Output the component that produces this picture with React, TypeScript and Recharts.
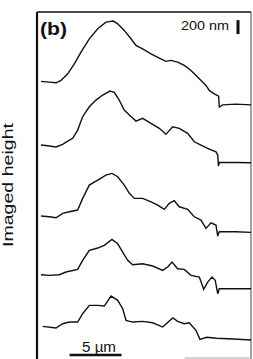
import React from "react";
import { LineChart, Line, XAxis, YAxis, ReferenceLine } from "recharts";

// Five stacked line-scan profiles (panel b). x in µm, heights in nm
// relative to each trace's own left baseline; offsets stack them.

const X_MAX = 20.58;
const Y_MAX = 4960;

const trace1X = [0.38, 1.18, 1.83, 2.31, 2.95, 3.59, 4.23, 5.03, 5.84, 6.63, 7.34, 7.76, 8.39, 9.04, 9.52, 10.16, 10.96, 11.76, 12.4, 12.88, 13.53, 14.16, 14.81, 15.61, 16.25, 16.57, 17.05, 17.47, 17.53, 17.86, 19.13, 20.58];
const trace1H = [3, -7, -17, 17, 111, 254, 422, 612, 755, 850, 865, 826, 732, 612, 517, 469, 397, 336, 289, 303, 279, 231, 160, 40, -54, -126, -174, -207, -364, -332, -322, -332];

const trace2X = [0.38, 1.03, 1.83, 2.47, 2.95, 3.43, 3.91, 4.39, 5.03, 5.67, 6.32, 7.02, 7.43, 7.91, 8.39, 8.88, 9.52, 10.16, 10.96, 11.76, 12.4, 13.05, 13.68, 14.49, 15.13, 15.77, 16.41, 17.21, 17.38, 17.45, 17.53, 19.13, 20.58];
const trace2H = [7, -3, -21, 17, 64, 103, 221, 412, 554, 650, 722, 779, 760, 650, 507, 436, 350, 389, 317, 246, 160, 269, 246, 174, 54, 7, -40, -89, -136, -293, -243, -243, -246];

const trace3X = [0.38, 1.18, 1.83, 2.47, 3.11, 3.91, 4.39, 5.03, 5.84, 6.63, 7.21, 7.76, 8.39, 8.88, 9.36, 10.16, 10.96, 11.61, 12.24, 12.72, 13.2, 13.68, 14.49, 15.13, 15.77, 16.25, 16.73, 17.21, 17.38, 17.53, 19.13, 20.58];
const trace3H = [7, -3, -17, 46, 69, 93, 260, 450, 522, 593, 617, 569, 450, 332, 260, 260, 211, 164, 103, 189, 226, 140, 103, -3, -50, -169, -89, -121, -279, -217, -217, -226];

const trace4X = [0.38, 1.18, 2.14, 2.79, 3.91, 4.39, 5.03, 5.84, 6.47, 7.21, 7.76, 8.24, 8.72, 9.2, 10.16, 11.13, 12.09, 12.57, 12.98, 13.53, 14.16, 14.81, 15.61, 16.03, 16.41, 16.83, 17.14, 17.38, 17.53, 19.13, 20.58];
const trace4H = [4, -4, 4, 43, 81, 210, 353, 386, 424, 510, 447, 329, 210, 147, 161, 129, 67, 114, 186, 90, 81, -4, -29, -204, -100, -29, -76, -267, -196, -196, -196];

const trace5X = [0.55, 1.83, 2.47, 3.11, 3.91, 4.39, 5.03, 5.84, 6.47, 7.12, 7.76, 8.24, 8.56, 9.2, 10.16, 11.13, 12.09, 13.05, 13.53, 14.16, 14.64, 15.29, 15.67, 16.31, 17.28, 18.88, 20.58];
const trace5H = [10, -14, 47, 71, 71, 190, 310, 310, 300, 443, 382, 262, 96, 71, 81, 61, 0, 129, 81, 47, 61, -47, -176, -147, -161, -171, -186];

const traceOffsets = [3965, 3051, 2036, 1200, 457];

// scale bars
const heightBarX = 19.33;
const heightBarY = [4644, 4844]; // 200 nm
const lengthBarX = [3.13, 8.13]; // 5 µm
const lengthBarY = 57;

const traces = [
  [trace1X, trace1H],
  [trace2X, trace2H],
  [trace3X, trace3H],
  [trace4X, trace4H],
  [trace5X, trace5H],
].map(([xs, hs], t) => xs.map((x, i) => ({ x, y: traceOffsets[t] + hs[i] })));

const INK = "#111";
const FONT = "'Liberation Sans', Arial, Helvetica, sans-serif";

export default function App() {
  return (
    <div style={{ position: "absolute", left: 0, top: 0, width: 253, height: 359, background: "#fff" }}>
      <LineChart width={253} height={359} margin={{ top: 12, right: 2, bottom: 0, left: 37 }}>
        <XAxis type="number" dataKey="x" domain={[0, X_MAX]} hide allowDuplicatedCategory={false} />
        <YAxis type="number" domain={[0, Y_MAX]} hide />
        <ReferenceLine y={Y_MAX} stroke={INK} strokeWidth={1.5} />
        <ReferenceLine x={0} stroke={INK} strokeWidth={2.2} />
        <ReferenceLine x={X_MAX} stroke="#444" strokeWidth={1} />
        <ReferenceLine
          segment={[{ x: 14.2, y: 14 }, { x: X_MAX, y: 14 }]}
          stroke="#aaa"
          strokeWidth={1}
        />
        {traces.map((d, i) => (
          <Line
            key={i}
            data={d}
            dataKey="y"
            type="linear"
            stroke={INK}
            strokeWidth={1.4}
            dot={false}
            activeDot={false}
            isAnimationActive={false}
          />
        ))}
        <ReferenceLine
          segment={[{ x: heightBarX, y: heightBarY[0] }, { x: heightBarX, y: heightBarY[1] }]}
          stroke={INK}
          strokeWidth={3}
        />
        <ReferenceLine
          segment={[{ x: lengthBarX[0], y: lengthBarY }, { x: lengthBarX[1], y: lengthBarY }]}
          stroke={INK}
          strokeWidth={2.5}
        />
      </LineChart>
      <svg
        width={253}
        height={359}
        style={{ position: "absolute", left: 0, top: 0, pointerEvents: "none" }}
        fontFamily={FONT}
        fill={INK}
      >
        <text x={40} y={35} fontSize={19} fontWeight="bold" textLength={27} lengthAdjust="spacingAndGlyphs">
          (b)
        </text>
        <text x={181} y={30} fontSize={12.5} textLength={48} lengthAdjust="spacingAndGlyphs">
          200 nm
        </text>
        <text x={82} y={352} fontSize={14} textLength={34} lengthAdjust="spacingAndGlyphs">
          5 µm
        </text>
        <text
          transform="translate(13 247) rotate(-90)"
          fontSize={15}
          textLength={124}
          lengthAdjust="spacingAndGlyphs"
        >
          Imaged height
        </text>
      </svg>
    </div>
  );
}
